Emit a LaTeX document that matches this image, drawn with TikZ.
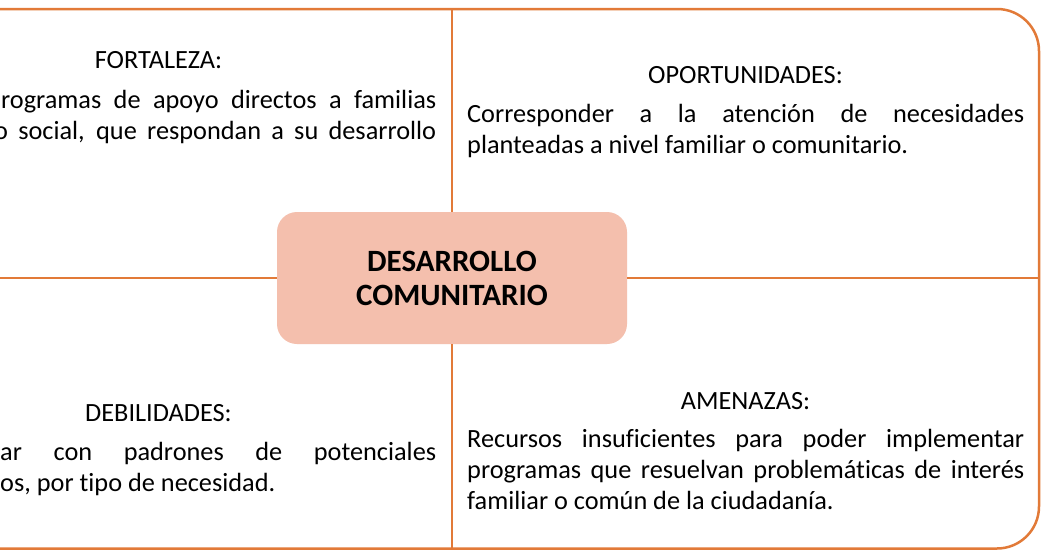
\documentclass[tikz,border=0pt]{standalone}
\usepackage{fontspec}
\setmainfont[Ligatures=NoCommon]{Carlito}
\definecolor{frameorange}{RGB}{226,122,56}
\definecolor{boxfill}{RGB}{244,191,173}
\begin{document}
\begin{tikzpicture}[x=1pt,y=-1pt,
  divider/.style={draw=frameorange, line width=2.5pt},
  hub/.style={fill=boxfill, rounded corners=20pt, minimum width=350pt, minimum height=132pt, inner sep=0pt, align=center, font=\bfseries\fontsize{31}{34}\selectfont},
  heading/.style={anchor=base, inner sep=0pt, font=\fontsize{26.3}{31}\selectfont},
  body/.style={anchor=base west, inner sep=0pt, font=\fontsize{26.3}{31}\selectfont}
]
\useasboundingbox (0,0) rectangle (1045,550);
\clip (0,0) rectangle (1045,550);
\fill[white] (0,0) rectangle (1045,550);

% outer frame (left part lies outside the picture)
\draw[divider, rounded corners=42pt] (-60,9) -- (1039,9) -- (1039,548.5) -- (-60,548.5);

% central node
\node[hub] (c) at (452,278) {DESARROLLO\\COMUNITARIO};

% free ends of the dividers on the frame
\coordinate (nt) at (452,9);
\coordinate (nb) at (452,548.5);
\coordinate (wl) at (-60,278);
\coordinate (er) at (1039,278);
\draw[divider] (c.north) -- (nt);
\draw[divider] (c.south) -- (nb);
\draw[divider] (c.west) -- (wl);
\draw[divider] (c.east) -- (er);

% top left
\node[heading] (ft) at (158.5,68) {FORTALEZA:};
\node[body] (fb) at (1,108) {\parbox[t]{435pt}{\makebox[435pt][s]{rogramas de apoyo directos a familias}\\\hspace*{-7pt}\makebox[442pt][s]{o social, que respondan a su desarrollo}}};

% top right
\node[heading] (ot) at (745.5,83) {OPORTUNIDADES:};
\node[body] (ob) at (467,122) {\parbox[t]{557pt}{\makebox[557pt][s]{Corresponder a la atención de necesidades}\\planteadas a nivel familiar o comunitario.}};

% bottom left
\node[heading] (dt) at (158.5,421) {DEBILIDADES:};
\node[body] (db) at (0,460) {\parbox[t]{436pt}{\makebox[436pt][s]{ar con padrones de potenciales}\\os, por tipo de necesidad.}};

% bottom right
\node[heading] (at) at (745.5,409) {AMENAZAS:};
\node[body] (ab) at (467,447) {\parbox[t]{557pt}{\makebox[557pt][s]{Recursos insuficientes para poder implementar}\\\makebox[557pt][s]{programas que resuelvan problemáticas de interés}\\familiar o común de la ciudadanía.}};
\end{tikzpicture}
\end{document}
